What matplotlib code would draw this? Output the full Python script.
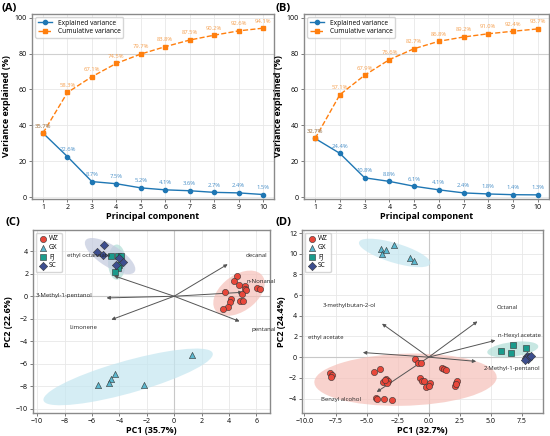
import numpy as np
import matplotlib
matplotlib.use("Agg")
import matplotlib.pyplot as plt
from matplotlib.patches import Ellipse
import matplotlib.transforms as transforms

plt.rcParams["font.family"] = ["Open Sans", "DejaVu Sans"]

# ---------- scree data ----------
pcs = np.arange(1, 11)
explained_a = [35.7, 22.6, 8.7, 7.5, 5.2, 4.1, 3.6, 2.7, 2.4, 1.5]
cumulative_a = [35.7, 58.3, 67.1, 74.5, 79.7, 83.8, 87.5, 90.2, 92.6, 94.1]
explained_b = [32.7, 24.4, 10.8, 8.8, 6.1, 4.1, 2.4, 1.8, 1.4, 1.3]
cumulative_b = [32.7, 57.1, 67.9, 76.6, 82.7, 86.8, 89.2, 91.0, 92.4, 93.7]

# ---------- score plot C ----------
c_wz_x = [4.59, 4.35, 4.71, 5.15, 5.15, 5.27, 6.05, 6.25, 3.71, 4.98, 4.17, 4.10, 4.81, 5.03, 3.93, 3.54]
c_wz_y = [1.76, 1.32, 1.00, 0.88, 0.62, 0.58, 0.70, 0.64, 0.38, 0.17, -0.21, -0.53, -0.44, -0.38, -0.97, -1.15]
c_gx_x = [1.27, -4.32, -4.58, -4.78, -5.53, -2.20]
c_gx_y = [-5.24, -6.91, -7.35, -7.73, -7.94, -7.94]
c_fj_x = [-4.63, -4.10, -3.90, -4.03, -4.07, -4.34]
c_fj_y = [3.60, 3.58, 3.58, 2.82, 2.52, 2.12]
c_sc_x = [-5.10, -5.65, -5.22, -4.27, -3.75, -4.05]
c_sc_y = [4.58, 3.98, 3.67, 2.76, 3.02, 3.45]

c_vars = ["decanal", "n-Nonanal", "pentanal", "Limonene", "3-Methyl-1-pentanol", "ethyl octanoate"]
c_load_x = [3.91, 5.00, 4.78, -4.58, -4.93, -4.39]
c_load_y = [2.85, 0.35, -2.24, -2.09, -0.15, 1.82]
c_lab_x = [5.98, 6.35, 6.52, -6.63, -8.0, -6.25]
c_lab_y = [3.64, 1.32, -2.94, -2.74, 0.05, 3.62]

# ---------- score plot D ----------
d_wz_x = [-7.93, -7.80, -7.85, -4.41, -3.95, -3.47, -3.28, -3.68, -3.36, -3.55,
          -4.27, -4.17, -3.63, -2.93, -1.13, -0.86, -0.59, -0.67, -0.51, -0.35,
          0.08, -0.24, 0.03, 1.10, 1.24, 1.38, 2.10, 2.23, 2.31, 2.16]
d_wz_y = [-1.57, -1.76, -1.92, -1.40, -1.18, -2.08, -2.31, -2.37, -2.46, -2.21,
          -3.94, -4.07, -4.07, -4.19, -0.15, -0.54, -0.54, -2.05, -2.31, -2.31,
          -2.53, -2.91, -2.79, -1.09, -1.17, -1.25, -2.79, -2.46, -2.34, -2.62]
d_gx_x = [-3.87, -3.47, -3.73, -2.77, -1.48, -1.15]
d_gx_y = [10.45, 10.36, 9.94, 10.81, 9.64, 9.29]
d_fj_x = [5.81, 6.61, 6.80, 7.85]
d_fj_y = [0.62, 0.42, 1.15, 0.84]
d_sc_x = [7.93, 8.09, 7.82, 8.01, 8.20, 7.74]
d_sc_y = [0.16, 0.04, -0.06, -0.15, 0.10, -0.29]

d_vars = ["Octanal", "n-Hexyl acetate", "2-Methyl-1-pentanol", "Benzyl alcohol", "ethyl acetate", "3-methylbutan-2-ol"]
d_load_x = [3.92, 5.37, 3.82, -4.19, -5.30, -3.76]
d_load_y = [3.46, 1.63, -0.41, -3.37, 0.45, 3.24]
d_lab_x = [6.3, 7.28, 6.72, -7.04, -8.25, -6.37]
d_lab_y = [4.8, 2.12, -1.12, -4.1, 1.92, 5.0]

groups = ["WZ", "GX", "FJ", "SC"]
colors = {"WZ": "#e8473a", "GX": "#5bb8cf", "FJ": "#1a9b8c", "SC": "#3d4e8f"}
ell_colors = {"WZ": "#f6c0b8", "GX": "#c4e6f0", "FJ": "#b0ddd6", "SC": "#c3c9de"}
markers = {"WZ": "o", "GX": "^", "FJ": "s", "SC": "D"}

W, H = 550, 436
fig = plt.figure(figsize=(W / 100, H / 100), dpi=100)


def add_ax(l, r, t, b):
    return fig.add_axes([l / W, 1 - b / H, (r - l) / W, (b - t) / H])


def style(ax):
    ax.grid(True, color="#e8e8e8", lw=0.6)
    ax.set_axisbelow(True)
    for s in ax.spines.values():
        s.set_color("#8a8a8a")
        s.set_linewidth(1.0)
    ax.tick_params(labelsize=5, length=2, width=0.6, color="#666666", pad=1.5)


def scree(ax, expl, cum):
    style(ax)
    ax.axhline(80, color="#d0d0d0", lw=0.8, zorder=1)
    ax.plot(pcs, expl, "-o", color="#1f77b4", lw=1.0, ms=3, label="Explained variance")
    ax.plot(pcs, cum, "--s", color="#ff7f0e", lw=1.0, ms=3.5, label="Cumulative variance")
    for x, v in zip(pcs, expl):
        ax.annotate(f"{v:.1f}%", (x, v), xytext=(0, 4), textcoords="offset points",
                    ha="center", fontsize=4.2, color="#4a90c8")
    for x, v in zip(pcs, cum):
        ax.annotate(f"{v:.1f}%", (x, v), xytext=(0, 4), textcoords="offset points",
                    ha="center", fontsize=4.2, color="#f5a050")
    ax.set_xticks(pcs)
    ax.set_yticks([0, 20, 40, 60, 80, 100])
    ax.set_ylim(-1, 102)
    ax.set_xlabel("Principal component", fontsize=6.5, fontweight="bold", labelpad=1)
    ax.set_ylabel("Variance explained (%)", fontsize=6.5, fontweight="bold", labelpad=3)
    ax.legend(loc="upper left", fontsize=4.8, frameon=True, handlelength=2.2,
              borderpad=0.35, labelspacing=0.25, edgecolor="#cccccc")


def conf_ellipse(ax, x, y, fc, n_std=2.4477):
    x = np.asarray(x)
    y = np.asarray(y)
    cov = np.cov(x, y)
    pearson = cov[0, 1] / np.sqrt(cov[0, 0] * cov[1, 1])
    rx = np.sqrt(1 + pearson)
    ry = np.sqrt(1 - pearson)
    ell = Ellipse((0, 0), width=rx * 2, height=ry * 2, facecolor=fc, edgecolor="none",
                  alpha=0.7, zorder=1)
    tr = (transforms.Affine2D().rotate_deg(45)
          .scale(np.sqrt(cov[0, 0]) * n_std, np.sqrt(cov[1, 1]) * n_std)
          .translate(x.mean(), y.mean()))
    ell.set_transform(tr + ax.transData)
    ax.add_patch(ell)


def biplot(ax, pts, vars_, lx, ly, tx, ty, xlab, ylab):
    style(ax)
    ax.axhline(0, color="#c8c8c8", lw=0.8, zorder=1)
    ax.axvline(0, color="#c8c8c8", lw=0.8, zorder=1)
    for g in groups:
        gx, gy = pts[g]
        conf_ellipse(ax, gx, gy, ell_colors[g])
    for g in groups:
        gx, gy = pts[g]
        ax.scatter(gx, gy, marker=markers[g], s=20 if g != "SC" else 18, color=colors[g],
                   edgecolor="#333333", linewidth=0.4, zorder=3, label=g)
    for name, x, y, a, b in zip(vars_, lx, ly, tx, ty):
        ax.annotate("", xy=(x, y), xytext=(0, 0),
                    arrowprops=dict(arrowstyle="-|>", color="#555555", lw=0.7,
                                    mutation_scale=5, shrinkA=0, shrinkB=0), zorder=2)
        ax.text(a, b, name, fontsize=4.3, ha="center", va="center", color="#222222")
    ax.set_xlabel(xlab, fontsize=6.5, fontweight="bold", labelpad=0.5)
    ax.set_ylabel(ylab, fontsize=6.5, fontweight="bold", labelpad=2)
    ax.legend(loc="upper left", fontsize=4.8, frameon=True, borderpad=0.4,
              labelspacing=0.3, handletextpad=0.3, handlelength=1.3, markerscale=1.0,
              borderaxespad=0.4, edgecolor="#cccccc")


axA = add_ax(32, 274, 14, 199)
scree(axA, explained_a, cumulative_a)
axB = add_ax(304, 549, 14, 199)
scree(axB, explained_b, cumulative_b)

axC = add_ax(33, 270, 230, 413)
biplot(axC, {"WZ": (c_wz_x, c_wz_y), "GX": (c_gx_x, c_gx_y), "FJ": (c_fj_x, c_fj_y),
             "SC": (c_sc_x, c_sc_y)},
       c_vars, c_load_x, c_load_y, c_lab_x, c_lab_y, "PC1 (35.7%)", "PC2 (22.6%)")
axC.set_xlim(-10.3, 7.0)
axC.set_ylim(-10.4, 5.9)
axC.set_xticks(range(-10, 7, 2))
axC.set_yticks(range(-10, 5, 2))

axD = add_ax(302, 543, 230, 413)
biplot(axD, {"WZ": (d_wz_x, d_wz_y), "GX": (d_gx_x, d_gx_y), "FJ": (d_fj_x, d_fj_y),
             "SC": (d_sc_x, d_sc_y)},
       d_vars, d_load_x, d_load_y, d_lab_x, d_lab_y, "PC1 (32.7%)", "PC2 (24.4%)")
axD.set_xlim(-10.2, 9.2)
axD.set_ylim(-5.4, 12.3)
axD.set_xticks(np.arange(-10, 8, 2.5))
axD.set_yticks(range(-4, 13, 2))

for txt, x, y in [("(A)", 2, 8), ("(B)", 276, 8), ("(C)", 5, 222), ("(D)", 276, 222)]:
    fig.text(x / W, 1 - y / H, txt, fontsize=8, fontweight="bold", va="center")

fig.savefig("out.png", dpi=100)
